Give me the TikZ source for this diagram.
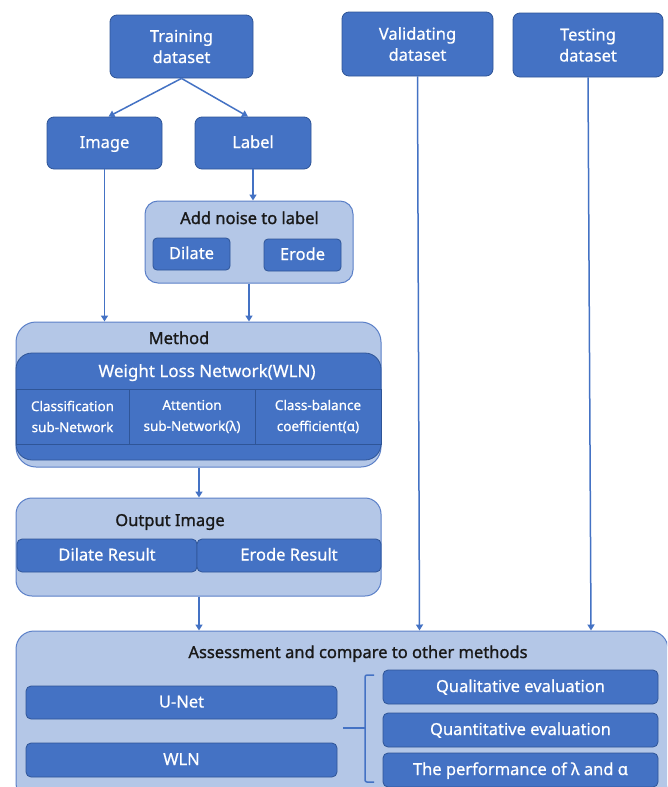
\documentclass[tikz,border=0pt]{standalone}
\usepackage{fontspec}
\setmainfont{Noto Sans}[FakeBold=0.6]
\newfontfamily\ttlfont{Noto Sans}[FakeBold=1.2]
\usetikzlibrary{arrows.meta}
\definecolor{dblue}{HTML}{4472C4}
\definecolor{bborder}{HTML}{2F5597}
\definecolor{lblue}{HTML}{B4C7E7}
\definecolor{lborder}{HTML}{5B80C8}
\tikzset{
  darkbox/.style={rectangle, fill=dblue, draw=bborder, line width=0.8pt, rounded corners=7pt, text=white, inner sep=0pt, align=center, font=\fontsize{16.5}{21}\selectfont},
  one/.style={text height=12.5pt, text depth=2.5pt},
  cellbox/.style={rectangle, fill=dblue, draw=bborder, line width=0.8pt, text=white, inner sep=0pt, align=center, font=\fontsize{13.5}{21}\selectfont},
  lightbox/.style={rectangle, fill=lblue, draw=lborder, line width=1pt, rounded corners=16pt, inner sep=0pt},
  ttl/.style={inner sep=0pt, text=black!90, font=\ttlfont\fontsize{16.5}{20}\selectfont, text height=12.5pt, text depth=2.5pt},
  arr/.style={draw=dblue, line width=1.5pt, -{Triangle[length=6pt,width=7pt]}},
  brk/.style={draw=dblue, line width=1.5pt},
}
\begin{document}
\begin{tikzpicture}[x=1pt,y=-1pt]
\useasboundingbox (0,0) rectangle (667,787);
\clip (0,0) rectangle (667,787);
\fill[white] (0,0) rectangle (667,787);
% top row
\node[darkbox, minimum width=143pt, minimum height=63pt] (train) at (181.5,46.5) {Training\\dataset};
\node[darkbox, minimum width=151pt, minimum height=64pt] (valid) at (417.5,44) {Validating\\dataset};
\node[darkbox, minimum width=150pt, minimum height=64pt] (test) at (588,45) {Testing\\dataset};
\node[darkbox, one, minimum width=115pt, minimum height=52pt] (image) at (104.5,143) {Image};
\node[darkbox, one, minimum width=116pt, minimum height=52pt] (label) at (253,143) {Label};
% noise
\node[lightbox, minimum width=208pt, minimum height=82pt, rounded corners=13pt] (noise) at (249,242) {};
\node[ttl] (noisettl) at (249.5,219) {Add noise to label};
\node[darkbox, one, minimum width=77pt, minimum height=32pt, rounded corners=4pt] (dilate) at (191.5,254) {Dilate};
\node[darkbox, one, minimum width=77pt, minimum height=32pt, rounded corners=4pt] (erode) at (302.5,255) {Erode};
% method
\node[lightbox, minimum width=365pt, minimum height=145pt, rounded corners=20pt] (method) at (198.5,394.5) {};
\node[ttl] (methodttl) at (179,339) {Method};
\node[darkbox, minimum width=365pt, minimum height=107pt, rounded corners=16pt] (wln) at (198.5,406.5) {};
\node[text=white, inner sep=0pt, font=\fontsize{17}{20}\selectfont, text height=12.5pt, text depth=2.5pt] (wlnttl) at (207,372) {Weight Loss Network(WLN)};
\node[cellbox, minimum width=113pt, minimum height=55pt] (cls) at (72.5,416.5) {Classification\\sub-Network};
\node[cellbox, minimum width=126pt, minimum height=55pt] (att) at (192,416.5) {Attention\\sub-Network(λ)};
\node[cellbox, minimum width=126pt, minimum height=55pt] (cb) at (318,416.5) {Class-balance\\coefficient(α)};
% output
\node[lightbox, minimum width=365pt, minimum height=98pt] (output) at (198.5,547) {};
\node[ttl] (outputttl) at (170,521) {Output Image};
\node[darkbox, one, minimum width=180pt, minimum height=33pt, rounded corners=5pt] (dres) at (107,555.5) {Dilate Result};
\node[darkbox, one, minimum width=184pt, minimum height=33pt, rounded corners=5pt] (eres) at (289,555.5) {Erode Result};
% assessment
\node[lightbox, minimum width=652pt, minimum height=170pt, rounded corners=18pt] (assess) at (342,716) {};
\node[ttl] (assessttl) at (358,653) {Assessment and compare to other methods};
\node[darkbox, one, minimum width=311pt, minimum height=33pt, rounded corners=5pt] (unet) at (181.5,702.5) {U-Net};
\node[darkbox, one, minimum width=311pt, minimum height=34pt, rounded corners=5pt] (wln2) at (181.5,760) {WLN};
\node[darkbox, one, minimum width=275pt, minimum height=34pt, rounded corners=5pt] (qual) at (520.5,687) {Qualitative evaluation};
\node[darkbox, one, minimum width=275pt, minimum height=34pt, rounded corners=5pt] (quant) at (520.5,730) {Quantitative evaluation};
\node[darkbox, one, minimum width=275pt, minimum height=34pt, rounded corners=5pt] (perf) at (520.5,770) {The performance of λ and α};
% bracket
\coordinate (bt) at (374,675);
\coordinate (bb) at (374,782);
\coordinate (bs) at (343,728);
\draw[brk, rounded corners=2pt] (bt) -- (365,675) -- (365,782) -- (bb);
\draw[brk] (bs) -- (365,728);
% arrows
\draw[arr] (train.south) -- ([xshift=4pt]image.north);
\draw[arr] (train.south) -- ([xshift=-5pt]label.north);
\draw[arr] (image.south) -- (image.south |- method.north);
\draw[arr] (label.south) -- (label.south |- noise.north);
\draw[arr] (noise.south) -- (noise.south |- method.north);
\draw[arr] ([xshift=0.5pt]method.south) -- ([xshift=0.5pt]output.north);
\draw[arr] ([xshift=0.5pt]output.south) -- ([xshift=0.5pt]output.south |- assess.north);
\draw[arr] (valid.south) -- ([xshift=2pt]valid.south |- assess.north);
\draw[arr] (test.south) -- ([xshift=3pt]test.south |- assess.north);
\end{tikzpicture}
\end{document}
